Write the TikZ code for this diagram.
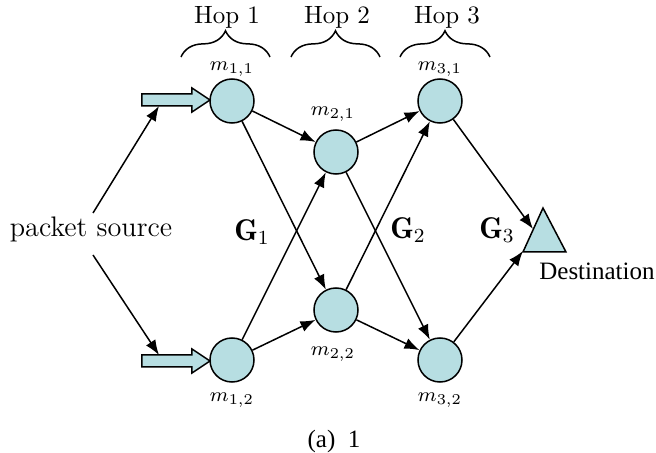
\documentclass[tikz,border=0pt]{standalone}
\usepackage{fontspec}
\newfontfamily\timesf{Liberation Serif}
\usetikzlibrary{arrows.meta,decorations.pathreplacing}
\definecolor{nodefill}{RGB}{183,222,226}
\begin{document}
\begin{tikzpicture}[x=0.4pt,y=-0.4pt,
  mnode/.style={circle,draw,fill=nodefill,line width=0.6pt,minimum size=17.6pt,inner sep=0pt},
  edge/.style={line width=0.6pt,-{Latex[length=6pt,width=4.5pt]}},
  lbl/.style={font=\footnotesize,inner sep=0pt},
  glbl/.style={font=\large},
  fat/.style={draw,fill=nodefill,line width=0.6pt},
  hopbrace/.style={decorate,decoration={brace,amplitude=10.5pt},line width=0.6pt}]
\useasboundingbox (0,0) rectangle (656,453);
% nodes
\node[mnode] (m11) at (232,101) {};
\node[mnode] (m12) at (232,360) {};
\node[mnode] (m21) at (336,152) {};
\node[mnode] (m22) at (336,310) {};
\node[mnode] (m31) at (440,101) {};
\node[mnode] (m32) at (440,360) {};
% labels
\node[lbl] (l11) at (232,69) {$m_{1,1}$};
\node[lbl] (l12) at (232,400) {$m_{1,2}$};
\node[lbl] (l21) at (333,114) {$m_{2,1}$};
\node[lbl] (l22) at (333,354) {$m_{2,2}$};
\node[lbl] (l31) at (440,69) {$m_{3,1}$};
\node[lbl] (l32) at (440,400) {$m_{3,2}$};
% hops
\node (h1) at (227,17) {Hop 1};
\node (h2) at (337,17) {Hop 2};
\node (h3) at (447,17) {Hop 3};
\draw[hopbrace] (181,57) -- (270,57);
\draw[hopbrace] (291,57) -- (380,57);
\draw[hopbrace] (400,57) -- (490,57);
% G labels
\node[glbl] (g1) at (252,232) {$\mathbf{G}_1$};
\node[glbl] (g2) at (408,230) {$\mathbf{G}_2$};
\node[glbl] (g3) at (497,230) {$\mathbf{G}_3$};
% source
\node[font=\fontsize{11.3}{13}\selectfont] (src) at (91,229) {packet source};
\coordinate (s1) at (93,213);
\coordinate (s2) at (93,255);
\coordinate (f1) at (159,106);
\coordinate (f2) at (159,355);
\draw[fat] (142,94) -- (192,94) -- (192,88) -- (210,100) -- (192,112) -- (192,106) -- (142,106) -- cycle;
\draw[fat] (142,355) -- (192,355) -- (192,349) -- (210,361) -- (192,373) -- (192,367) -- (142,367) -- cycle;
\draw[edge] (s1) -- (f1);
\draw[edge] (s2) -- (f2);
% destination
\draw[fat] (543,208) -- (566,252) -- (523,252) -- cycle;
\coordinate (t1) at (533,229);
\coordinate (t2) at (523,251);
\node[font=\timesf] (dest) at (597,271) {Destination};
% edges
\draw[edge] (m11) -- (m21);
\draw[edge] (m11) -- (m22);
\draw[edge] (m12) -- (m21);
\draw[edge] (m12) -- (m22);
\draw[edge] (m21) -- (m31);
\draw[edge] (m21) -- (m32);
\draw[edge] (m22) -- (m31);
\draw[edge] (m22) -- (m32);
\draw[edge] (m31) -- (t1);
\draw[edge] (m32) -- (t2);
% caption
\node[font=\timesf] (cap) at (334,441) {(a)~~1};
\end{tikzpicture}
\end{document}
